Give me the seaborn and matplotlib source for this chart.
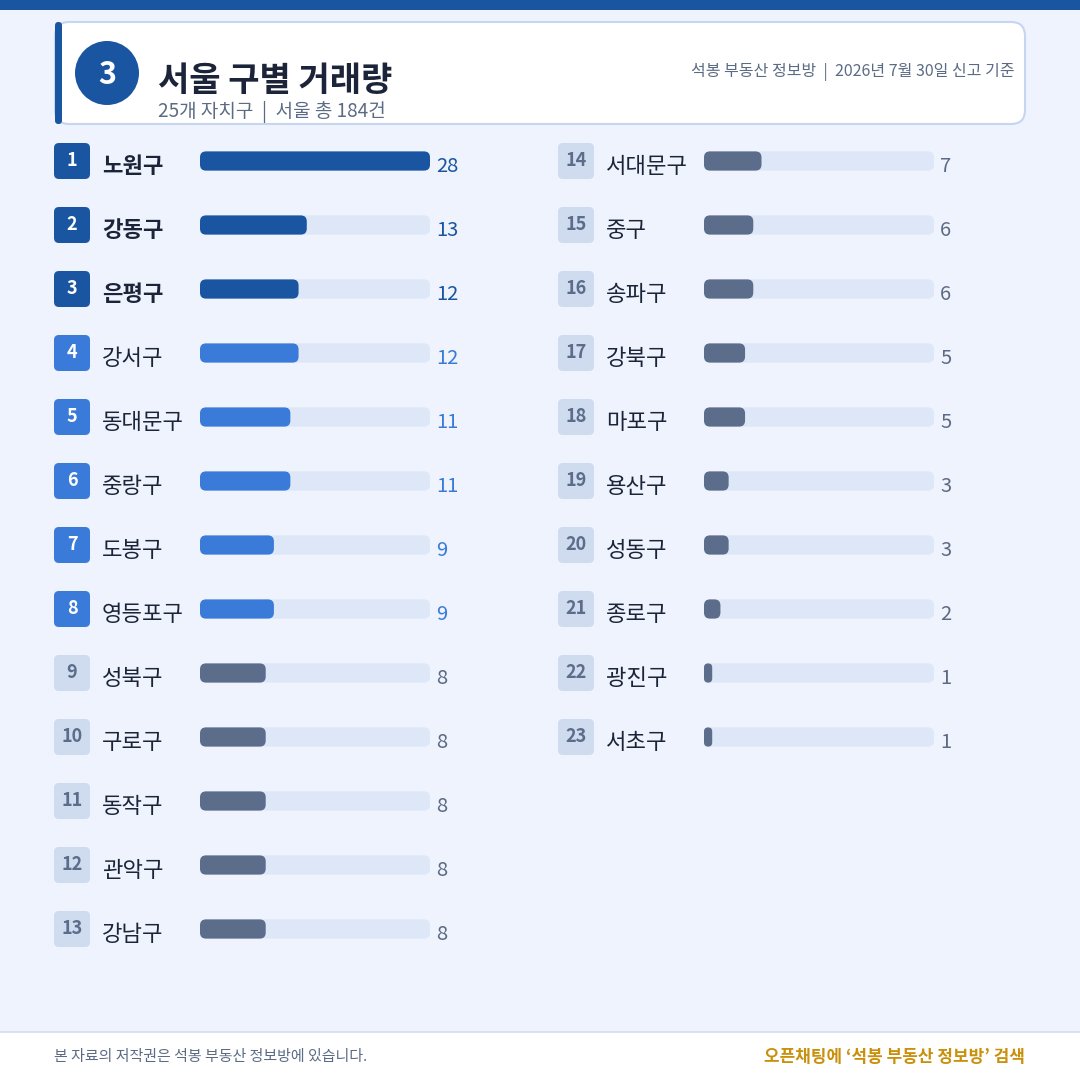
import matplotlib

matplotlib.use("Agg")

import matplotlib.pyplot as plt
import seaborn as sns
from matplotlib.patches import Circle, FancyBboxPatch, Rectangle
from matplotlib.transforms import blended_transform_factory

# data
left_names = ["노원구", "강동구", "은평구", "강서구", "동대문구", "중랑구", "도봉구",
              "영등포구", "성북구", "구로구", "동작구", "관악구", "강남구"]
left_vals = [28, 13, 12, 12, 11, 11, 9, 9, 8, 8, 8, 8, 8]
right_names = ["서대문구", "중구", "송파구", "강북구", "마포구", "용산구", "성동구",
               "종로구", "광진구", "서초구"]
right_vals = [7, 6, 6, 5, 5, 3, 3, 2, 1, 1]

title = "서울 구별 거래량"
section_no = "3"
subtitle = "25개 자치구  |  서울 총 184건"
meta = "석봉 부동산 정보방  |  2026년 7월 30일 신고 기준"
footer_left = "본 자료의 저작권은 석봉 부동산 정보방에 있습니다."
footer_right = "오픈채팅에 ‘석봉 부동산 정보방’ 검색"

DARK = "#1a55a2"
MID = "#3a7ad8"
SLATE = "#5b6d8a"
TRACK = "#dde7f8"
BG = "#eef3fd"
BADGE_LIGHT = "#cfdbee"
INK = "#1b2438"
GRAY = "#5c6b84"
GOLD = "#c9900c"

sns.set_theme(style="white")
plt.rcParams["font.family"] = ["Noto Sans CJK KR", "DejaVu Sans"]

W = H = 1080
fig = plt.figure(figsize=(10.8, 10.8), dpi=100, facecolor=BG)
bg = fig.add_axes([0, 0, 1, 1])
bg.set_xlim(0, W)
bg.set_ylim(H, 0)
bg.axis("off")
bg.set_facecolor(BG)

# top strip
bg.add_patch(Rectangle((0, 0), W, 10, color=DARK, lw=0))
# header card
bg.add_patch(FancyBboxPatch((55, 22), 970, 102, boxstyle="round,pad=0,rounding_size=14",
                            fc="white", ec="#c6d6f0", lw=1.5))
bg.add_patch(FancyBboxPatch((55, 22), 7, 102, boxstyle="round,pad=0,rounding_size=3.5",
                            fc=DARK, ec="none"))
bg.add_patch(Circle((107, 73), 32, color=DARK, lw=0))
bg.text(107, 75, section_no, ha="center", va="center", color="white", fontsize=22, fontweight="bold")
bg.text(158, 80, title, ha="left", va="center", color=INK, fontsize=24.5, fontweight="bold")
bg.text(158, 112, subtitle, ha="left", va="center", color=GRAY, fontsize=13.7)
bg.text(1015, 72, meta, ha="right", va="center", color=GRAY, fontsize=11.5)

# footer
bg.add_patch(Rectangle((0, 1032), W, 48, color="white", lw=0))
bg.plot([0, W], [1032, 1032], color="#d3deef", lw=1.2)
bg.text(54, 1057, footer_left, ha="left", va="center", color=GRAY, fontsize=10.8)
bg.text(1025, 1057, footer_right, ha="right", va="center", color=GOLD, fontsize=12.2, fontweight="bold")

ROW_PX = 64
N_ROWS = len(left_names)
TOP_PX = 161 - ROW_PX / 2
TRACK_W = 230
vmax = max(left_vals + right_vals)


def tier(rank):
    if rank <= 3:
        return DARK, DARK, "white", INK, "bold", DARK
    if rank <= 8:
        return MID, MID, "white", INK, "normal", MID
    return SLATE, BADGE_LIGHT, SLATE, INK, "normal", GRAY


def round_bars(ax, radius_px=6):
    pos = ax.get_position()
    xppu = pos.width * W / (ax.get_xlim()[1] - ax.get_xlim()[0])
    yppu = pos.height * H / abs(ax.get_ylim()[0] - ax.get_ylim()[1])
    for p in list(ax.patches):
        x, y, w, h = p.get_x(), p.get_y(), p.get_width(), p.get_height()
        fc = p.get_facecolor()
        z = p.get_zorder()
        p.remove()
        r_px = min(radius_px, w * xppu / 2, abs(h) * yppu / 2)
        ax.add_patch(FancyBboxPatch((x, y), w, h,
                                    boxstyle=f"round,pad=0,rounding_size={r_px / xppu}",
                                    mutation_aspect=xppu / yppu, fc=fc, ec="none", zorder=z))


def draw_column(names, vals, first_rank, left_px):
    ax = fig.add_axes([left_px / W, 1 - (TOP_PX + N_ROWS * ROW_PX) / H,
                       TRACK_W / W, N_ROWS * ROW_PX / H])
    ax.patch.set_alpha(0)
    ranks = list(range(first_rank, first_rank + len(names)))
    bar_colors = [tier(r)[0] for r in ranks]
    sns.barplot(x=[vmax] * len(names), y=names, color=TRACK, saturation=1, width=0.3, ax=ax)
    sns.barplot(x=vals, y=names, hue=names, palette=bar_colors, saturation=1,
                width=0.3, legend=False, ax=ax)
    ax.set_xlim(0, vmax)
    ax.set_ylim(N_ROWS - 0.5, -0.5)
    ax.axis("off")
    round_bars(ax)

    tr = blended_transform_factory(bg.transData, ax.transData)
    yppu = ROW_PX
    for i, (name, val, rank) in enumerate(zip(names, vals, ranks)):
        _, badge_fc, badge_txt, label_c, weight, val_c = tier(rank)
        bx = left_px - 146
        ax.add_patch(FancyBboxPatch((bx, i - 18 / yppu), 36, 36 / yppu,
                                    boxstyle="round,pad=0,rounding_size=5",
                                    mutation_aspect=1 / yppu, fc=badge_fc, ec="none",
                                    transform=tr, clip_on=False))
        ax.text(bx + 18, i, str(rank), transform=tr, ha="center", va="center",
                color=badge_txt, fontsize=13, fontweight="bold", clip_on=False)
        ax.text(left_px - 98, i + 0.08, name, transform=tr, ha="left", va="center",
                color=label_c, fontsize=16, fontweight=weight, clip_on=False)
        ax.text(left_px + TRACK_W + 6, i + 0.08, str(val), transform=tr, ha="left", va="center",
                color=val_c, fontsize=14.5, clip_on=False)
    return ax


draw_column(left_names, left_vals, 1, 200)
draw_column(right_names, right_vals, len(left_names) + 1, 704)

fig.savefig("out.png", dpi=100, facecolor=BG)
